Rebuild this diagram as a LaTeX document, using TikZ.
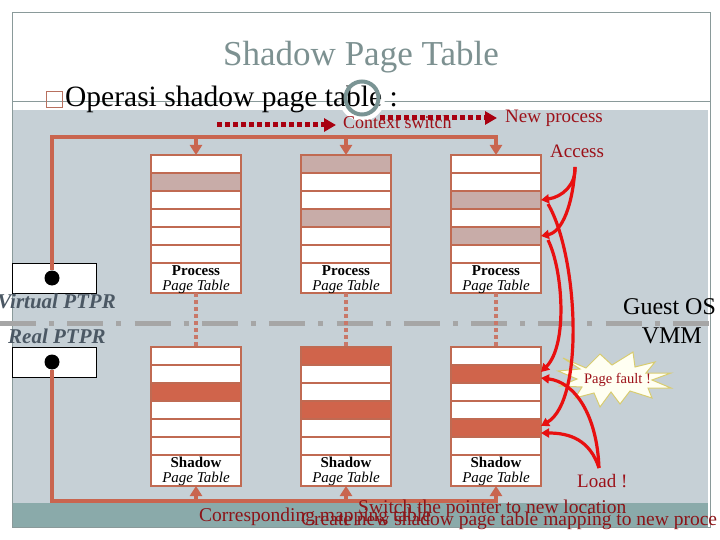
\documentclass[tikz,border=0pt]{standalone}
\usepackage{fontspec}
\setmainfont{Liberation Serif}
\usetikzlibrary{arrows.meta,calc}
\definecolor{bgray}{HTML}{C6D0D6}
\definecolor{tealc}{HTML}{8AAAAA}
\definecolor{framec}{HTML}{8A9A9A}
\definecolor{titlec}{HTML}{7D9191}
\definecolor{bulc}{HTML}{B8705E}
\definecolor{ringc}{HTML}{7A9494}
\definecolor{dred}{HTML}{A80010}
\definecolor{txtred}{HTML}{9C1018}
\definecolor{botred}{HTML}{8C1418}
\definecolor{orc}{HTML}{C9654F}
\definecolor{tabc}{HTML}{C06A52}
\definecolor{pshade}{HTML}{C8ACA8}
\definecolor{sshade}{HTML}{D0644B}
\definecolor{redc}{HTML}{E81010}
\definecolor{dotc}{HTML}{C87869}
\definecolor{dashg}{HTML}{A6A6A6}
\definecolor{ptprc}{HTML}{4B5864}
\definecolor{burstf}{HTML}{FFFFF2}
\definecolor{burstd}{HTML}{D8CC70}
\tikzset{
  prow/.style={draw=tabc, line width=1.5pt, minimum width=90pt, minimum height=18pt, inner sep=0pt, outer sep=0pt},
  plabel/.style={prow, minimum height=30pt, fill=white},
  slabel/.style={prow, minimum height=31pt, fill=white},
  lbltext/.style={anchor=base, align=center, inner sep=0pt, font=\fontsize{15}{15.5}\selectfont},
  orline/.style={draw=orc, line width=4pt},
  orarrow/.style={orline, -{Triangle[width=12pt,length=10pt]}},
  dotline/.style={draw=dotc, line width=4pt, dash pattern=on 4pt off 3pt},
  dasharrow/.style={draw=dred, line width=5pt, dash pattern=on 5pt off 3pt, -{Triangle[width=13pt,length=12pt]}},
  redarr/.style={draw=redc, line width=3.2pt, -{Triangle[width=9pt,length=8pt]}},
  ptprbox/.style={draw=black, line width=1pt, fill=white, minimum width=84pt, minimum height=30pt, inner sep=0pt},
  blackdot/.style={circle, fill=black, minimum size=15pt, inner sep=0pt},
  ptprtext/.style={inner sep=0pt, text=ptprc, font=\fontsize{21}{24}\selectfont\bfseries\itshape},
  redtext/.style={inner sep=0pt, text=txtred, font=\fontsize{19}{22}\selectfont},
  bottext/.style={inner sep=0pt, anchor=base west, text=botred, font=\fontsize{19.5}{22}\selectfont},
  bigtext/.style={inner sep=0pt, font=\fontsize{24}{28}\selectfont},
}
\begin{document}
\begin{tikzpicture}[x=1pt,y=-1pt]
\useasboundingbox (0,0) rectangle (720,540);
\fill[white] (0,0) rectangle (720,540);
% slide background
\fill[bgray] (12,110) rectangle (708,503);
\fill[tealc] (12,503) rectangle (708,527);
\draw[framec, line width=0.8pt] (12,12) rectangle (710,527);
\draw[framec, line width=0.8pt] (12,101) -- (710,101);
% title
\node[anchor=base, inner sep=0pt, text=titlec, font=\fontsize{35}{40}\selectfont] (title) at (361,66) {Shadow Page Table};
% ring decoration
\fill[white] (362,98) circle (23);
\node[draw=bulc, line width=1.5pt, minimum size=16pt, inner sep=0pt] (bul) at (54.5,99.5) {};
\node[anchor=base west, inner sep=0pt, font=\fontsize{29.5}{34}\selectfont] (op) at (65,107) {Operasi shadow page table :};
\draw[ringc, line width=4pt] (362,98) circle (16.5);
% guest / vmm separator
\draw[dashg, line width=5pt, dash pattern=on 36pt off 13pt on 5pt off 13.3pt] (0,323) -- (712,323);
% tables
\foreach \i/\x/\a/\b/\c/\d in {1/196/2/0/3/0, 2/346/1/4/1/4, 3/496/3/5/2/5} {
  \foreach \r in {1,...,6} {
    \pgfmathtruncatemacro\ps{(\r==\a)||(\r==\b)}
    \pgfmathtruncatemacro\ss{(\r==\c)||(\r==\d)}
    \ifnum\ps=1 \def\pfc{pshade}\else\def\pfc{white}\fi
    \ifnum\ss=1 \def\sfc{sshade}\else\def\sfc{white}\fi
    \node[prow, fill=\pfc] (p\i-\r) at (\x,{146+18*\r}) {};
    \node[prow, fill=\sfc] (s\i-\r) at (\x,{338+18*\r}) {};
  }
  \node[plabel] (p\i-l) at (\x,278) {};
  \node[slabel] (s\i-l) at (\x,470.5) {};
  \node[lbltext] (p\i-t) at (\x,290.5) {\textbf{Process}\\\textit{Page Table}};
  \node[lbltext] (s\i-t) at (\x,482.5) {\textbf{Shadow}\\\textit{Page Table}};
}
\foreach \i in {1,2,3} \draw[dotline] (p\i-l.south) -- (s\i-1.north);
% PTPR registers
\node[ptprbox] (vbox) at (54,278) {};
\node[blackdot] (vd) at (52,278) {};
\node[ptprbox] (rbox) at (54,362.5) {};
\node[blackdot] (rd) at (52,362) {};
\coordinate (vtop) at (52,137);
\coordinate (rbot) at (52,501);
\draw[orarrow] (vd.north) -- (vtop) -- (vtop -| p3-1.north) -- (p3-1.north);
\foreach \i in {1,2} \draw[orarrow] (vtop -| p\i-1.north) -- (p\i-1.north);
\draw[orarrow] (rd.south) -- (rbot) -- (rbot -| s3-l.south) -- (s3-l.south);
\foreach \i in {1,2} \draw[orarrow] (rbot -| s\i-l.south) -- (s\i-l.south);
\node[ptprtext, anchor=base east] (vptpr) at (116,308) {Virtual PTPR};
\node[ptprtext, anchor=base west] (rptpr) at (8,343) {Real PTPR};
\node[bigtext, anchor=base west] (gos) at (623,314) {Guest OS};
\node[bigtext, anchor=base east] (vmm) at (702,343) {VMM};
% top labels and dashed arrows
\node[redtext, anchor=base west, font=\fontsize{18}{21}\selectfont] (csn) at (343,129) {Context switch};
\node[redtext, anchor=base west] (npn) at (505,123) {New process};
\coordinate (cs0) at (217,125);
\coordinate (np0) at (380,118);
\coordinate (cs1) at ($(csn.west)+(-7,0)$);
\coordinate (np1) at ($(npn.west)+(-8,0)$);
\draw[dasharrow] (cs0) -- (cs0 -| cs1);
\draw[dasharrow] (np0) -- (np0 -| np1);
\node[redtext, anchor=base west] (acc) at (550,158) {Access};
\node[redtext, anchor=base west] (load) at (577,487) {Load !};
% page fault burst
\filldraw[fill=burstf, draw=burstd, line width=1pt]
  (563,358) -- (586,368) -- (600,354) -- (612,365) -- (633,352) -- (635,367) -- (655,362) -- (646,373)
  -- (671,373) -- (652,380) -- (671,388) -- (648,388) -- (652,398) -- (630,391) -- (620,404) -- (611,392)
  -- (600,407) -- (594,393) -- (575,398) -- (582,387) -- (560,386) -- (577,379) -- (558,371) -- (580,369) -- cycle;
\node[inner sep=0pt, anchor=base, text=txtred, font=\fontsize{14.5}{17}\selectfont] (pf) at (617.5,383) {Page fault !};
% red access / load curves
\coordinate (accs) at (575,167);
\coordinate (loads) at (599,468);
\draw[redarr] (accs) .. controls (576,185) and (562,197) .. (p3-3.east);
\draw[redarr] (accs) .. controls (573,205) and (562,232) .. (p3-5.east);
\draw[redarr] ($(p3-3.east)+(7,4)$) .. controls (578,255) and (585,400) .. ($(s3-5.east)+(0,-2)$);
\draw[redarr] ($(p3-5.east)+(7,4)$) .. controls (563,270) and (568,345) .. ($(s3-2.east)+(0,-2)$);
\draw[redarr] (loads) .. controls (597,415) and (575,382) .. ($(s3-2.east)+(0,4)$);
\draw[redarr] (loads) .. controls (590,440) and (570,433) .. ($(s3-5.east)+(0,5)$);
% bottom overlapping texts
\node[bottext] (corr) at (199,521) {Corresponding mapping table};
\node[bottext] (sw) at (358,513) {Switch the pointer to new location};
\node[bottext] (cr) at (301,525) {Create new shadow page table mapping to new proce};
\end{tikzpicture}
\end{document}
